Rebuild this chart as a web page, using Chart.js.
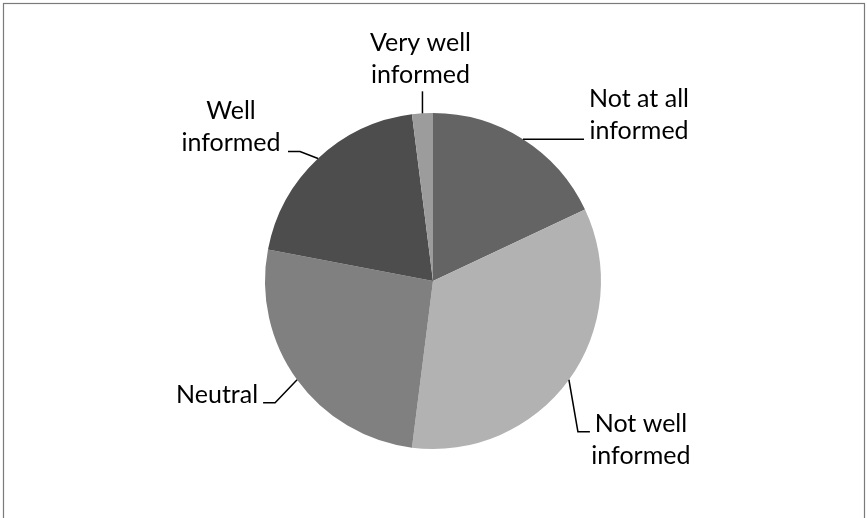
<!DOCTYPE html>
<html>
<head>
<meta charset="utf-8">
<script src="https://cdn.jsdelivr.net/npm/chart.js@4/dist/chart.umd.min.js"></script>
<style>
  html, body { margin: 0; padding: 0; background: #fff; }
  canvas { display: block; }
</style>
</head>
<body>
<canvas id="pieChart" width="867" height="518"></canvas>
<script>
const categories = ['Not at all informed', 'Not well informed', 'Neutral', 'Well informed', 'Very well informed'];
const shares = [18, 34, 26, 20, 2];
const sliceColors = ['#646464', '#b2b2b2', '#7f807f', '#4d4d4d', '#9c9c9c'];

// label text lines and where they sit relative to the slice's outer midpoint
const labelLines = [
    ['Not at all', 'informed'],
    ['Not well', 'informed'],
    ['Neutral'],
    ['Well', 'informed'],
    ['Very well', 'informed']
];
const labelLayout = [
    { text: [116, -32], leader: [[61, 0]] },
    { text: [72, 52], leader: [[9, 52], [21, 52]] },
    { text: [-80, 23], leader: [[-22, 23], [-34, 23]] },
    { text: [-87, -40], leader: [[-18, -7], [-30, -7]] },
    { text: [-2, -62], leader: [[0, -22]] }
];

const calloutPlugin = {
    id: 'callouts',
    afterDraw(chart) {
        const ctx = chart.ctx;
        const arcs = chart.getDatasetMeta(0).data;
        ctx.save();

        // outer frame
        ctx.strokeStyle = '#7a7a7a';
        ctx.lineWidth = 1.2;
        ctx.strokeRect(3.5, 3.5, chart.width - 6, chart.height + 20);

        ctx.font = '25px Lato, "Open Sans", sans-serif';
        ctx.fillStyle = '#000';
        ctx.textAlign = 'center';
        ctx.textBaseline = 'alphabetic';
        ctx.strokeStyle = '#000';
        ctx.lineWidth = 1.5;

        arcs.forEach((arc, i) => {
            const p = arc.getProps(['x', 'y', 'startAngle', 'endAngle', 'outerRadius'], true);
            const mid = (p.startAngle + p.endAngle) / 2;
            const ax = p.x + Math.cos(mid) * p.outerRadius;
            const ay = p.y + Math.sin(mid) * p.outerRadius;
            const lay = labelLayout[i];

            ctx.beginPath();
            ctx.moveTo(ax, ay);
            lay.leader.forEach(pt => ctx.lineTo(ax + pt[0], ay + pt[1]));
            ctx.stroke();

            labelLines[i].forEach((line, k) => {
                ctx.fillText(line, ax + lay.text[0], ay + lay.text[1] + k * 32);
            });
        });
        ctx.restore();
    }
};

new Chart(document.getElementById('pieChart'), {
    type: 'pie',
    data: {
        labels: categories,
        datasets: [{
            data: shares,
            backgroundColor: sliceColors,
            borderWidth: 0
        }]
    },
    options: {
        responsive: false,
        animation: false,
        layout: { padding: { left: 265, right: 266, top: 113, bottom: 69 } },
        plugins: {
            legend: { display: false },
            tooltip: { enabled: false }
        }
    },
    plugins: [calloutPlugin]
});
</script>
</body>
</html>
